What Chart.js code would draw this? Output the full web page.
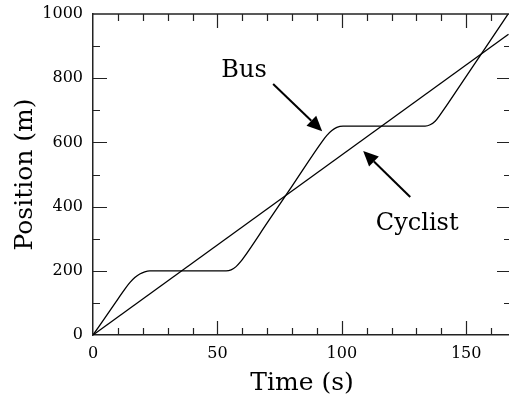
<!DOCTYPE html>
<html>
<head>
<meta charset="utf-8">
<script src="https://cdn.jsdelivr.net/npm/chart.js@4.4.1/dist/chart.umd.min.js"></script>
<style>
  html, body { margin: 0; padding: 0; background: #fff; overflow: hidden; }
  #wrap { width: 512px; height: 408px; }
</style>
</head>
<body>
<div id="wrap"><canvas id="motionChart" width="512" height="408"></canvas></div>
<script>
// Bus position (m) against time (s)
const busTime = [0, 5, 10, 12.8, 14.8, 16.8, 18.8, 20.8, 22.8, 53.5, 55.5, 57.5, 59.5, 60.5, 70, 80, 92, 94, 96, 98, 100.5, 133.5, 135.5, 137.5, 139.5, 150, 160, 167];
const busPos  = [0, 56, 112, 143, 163, 179, 190, 197, 200, 200, 203, 213, 230, 240, 349, 464, 602, 622, 637, 647, 651, 651, 655, 666, 686, 806, 921, 1002];

// Cyclist moves at constant speed
const cyclistTime = [0, 167];
const cyclistPos  = [0, 937];

// Axis ticks
const xMajorTicks = [0, 50, 100, 150];
const xMinorTicks = [10, 20, 30, 40, 60, 70, 80, 90, 110, 120, 130, 140, 160];
const yMajorTicks = [0, 200, 400, 600, 800, 1000];
const yMinorTicks = [100, 300, 500, 700, 900];

// Annotation labels and arrows (data coordinates)
const notes = [
  { text: 'Bus', at: [60.7, 804], from: [72.4, 782], to: [92.1, 635] },
  { text: 'Cyclist', at: [130.3, 327], from: [127.5, 430], to: [108.6, 573] }
];

const serif = '"DejaVu Serif", "Liberation Serif", serif';

function toPoints(xs, ys) {
  return xs.map((x, i) => ({ x: x, y: ys[i] }));
}

// Inward ticks on all four sides, top frame line, arrows and labels
const framePlugin = {
  id: 'framePlugin',
  afterDraw(chart) {
    const ctx = chart.ctx;
    const area = chart.chartArea;
    const xs = chart.scales.x;
    const ys = chart.scales.y;
    ctx.save();
    ctx.strokeStyle = '#222';
    ctx.lineWidth = 1.5;

    // top frame line
    ctx.beginPath();
    ctx.moveTo(area.left, area.top);
    ctx.lineTo(area.right, area.top);
    ctx.stroke();

    const drawX = (vals, len) => {
      vals.forEach(v => {
        const px = Math.round(xs.getPixelForValue(v)) + 0.5;
        ctx.beginPath();
        ctx.moveTo(px, area.bottom);
        ctx.lineTo(px, area.bottom - len);
        ctx.moveTo(px, area.top);
        ctx.lineTo(px, area.top + len);
        ctx.stroke();
      });
    };
    const drawY = (vals, len) => {
      vals.forEach(v => {
        const py = Math.round(ys.getPixelForValue(v)) + 0.5;
        ctx.beginPath();
        ctx.moveTo(area.left, py);
        ctx.lineTo(area.left + len, py);
        ctx.moveTo(area.right, py);
        ctx.lineTo(area.right - len, py);
        ctx.stroke();
      });
    };
    ctx.lineWidth = 1.2;
    drawX(xMajorTicks.slice(1), 14);
    drawX(xMinorTicks, 7);
    drawY(yMajorTicks.slice(1, -1), 14);
    drawY(yMinorTicks, 7);

    // annotations
    ctx.fillStyle = '#000';
    ctx.strokeStyle = '#000';
    notes.forEach(n => {
      const x0 = xs.getPixelForValue(n.from[0]);
      const y0 = ys.getPixelForValue(n.from[1]);
      const x1 = xs.getPixelForValue(n.to[0]);
      const y1 = ys.getPixelForValue(n.to[1]);
      const ang = Math.atan2(y1 - y0, x1 - x0);
      const headLen = 15;
      const headW = 7;
      const bx = x1 - headLen * Math.cos(ang);
      const by = y1 - headLen * Math.sin(ang);
      ctx.lineWidth = 2;
      ctx.beginPath();
      ctx.moveTo(x0, y0);
      ctx.lineTo(bx, by);
      ctx.stroke();
      ctx.beginPath();
      ctx.moveTo(x1, y1);
      ctx.lineTo(bx + headW * Math.sin(ang), by - headW * Math.cos(ang));
      ctx.lineTo(bx - headW * Math.sin(ang), by + headW * Math.cos(ang));
      ctx.closePath();
      ctx.fill();

      ctx.font = '24px ' + serif;
      ctx.textAlign = 'center';
      ctx.textBaseline = 'alphabetic';
      ctx.fillText(n.text, xs.getPixelForValue(n.at[0]), ys.getPixelForValue(n.at[1]));
    });
    ctx.restore();
  }
};

const ctx = document.getElementById('motionChart');

window.motionChart = new Chart(ctx, {
  type: 'scatter',
  data: {
    datasets: [{
      label: 'Bus',
      data: toPoints(busTime, busPos),
      showLine: true,
      borderColor: '#000',
      borderWidth: 1.3,
      pointRadius: 0,
      cubicInterpolationMode: 'monotone'
    }, {
      label: 'Cyclist',
      data: toPoints(cyclistTime, cyclistPos),
      showLine: true,
      borderColor: '#000',
      borderWidth: 1.3,
      pointRadius: 0
    }]
  },
  options: {
    responsive: false,
    animation: false,
    layout: { padding: { top: 14, right: 1, left: 0, bottom: 0 } },
    plugins: {
      legend: { display: false },
      tooltip: { enabled: false }
    },
    scales: {
      x: {
        type: 'linear',
        min: 0,
        max: 168,
        afterFit: scale => {
          scale.height = 73;
          scale.paddingLeft = 0;
          scale.paddingRight = 0;
        },
        afterBuildTicks: scale => { scale.ticks = xMajorTicks.map(v => ({ value: v })); },
        grid: { display: false, drawTicks: false },
        border: { display: true, color: '#222', width: 1.5 },
        ticks: {
          color: '#000',
          padding: 9,
          maxRotation: 0,
          font: { family: serif, size: 16 },
          callback: v => String(v)
        },
        title: {
          display: true,
          text: 'Time (s)',
          color: '#000',
          font: { family: serif, size: 25 },
          padding: { top: 0, bottom: 10 }
        }
      },
      y: {
        type: 'linear',
        min: 0,
        max: 1000,
        afterFit: scale => {
          scale.width = 93;
          scale.paddingTop = 0;
          scale.paddingBottom = 0;
        },
        afterBuildTicks: scale => { scale.ticks = yMajorTicks.map(v => ({ value: v })); },
        grid: { display: false, drawTicks: false },
        border: { display: true, color: '#222', width: 1.5 },
        ticks: {
          color: '#000',
          padding: 10,
          font: { family: serif, size: 16 },
          callback: v => String(v)
        },
        title: {
          display: true,
          text: 'Position (m)',
          color: '#000',
          font: { family: serif, size: 25 },
          padding: { top: 10, bottom: 0 }
        }
      }
    }
  },
  plugins: [framePlugin]
});
</script>
</body>
</html>
